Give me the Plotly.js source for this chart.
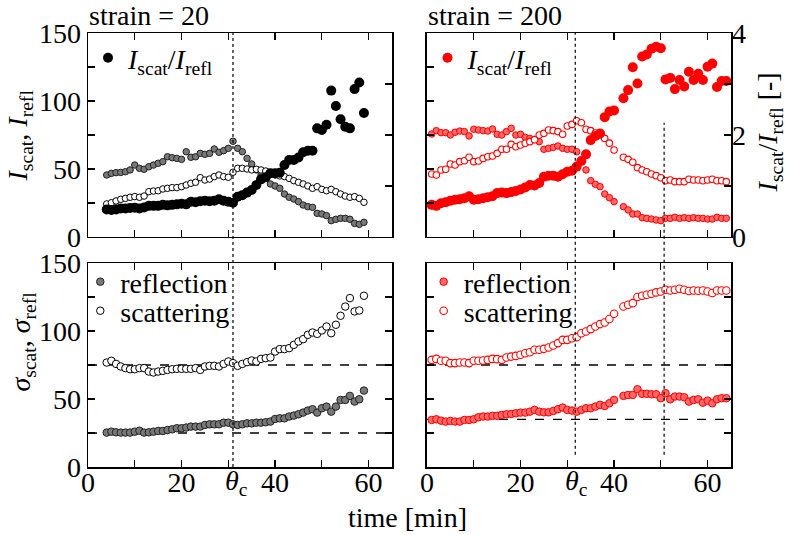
<!DOCTYPE html>
<html>
<head>
<meta charset="utf-8">
<script src="https://cdn.plot.ly/plotly-3.0.1.min.js"></script>
<style>html,body{margin:0;padding:0;background:#fff;}#chart{width:788px;height:535px;}</style>
</head>
<body>
<div id="chart"></div>
<script>
// ---- data: strain = 20 ----
const t20 = [4,5,6,7,8,9,10,11,12,13,14,15,16,17,18,19,20,21,22,23,24,25,26,27,28,29,30,31,
  32,33,34,35,36,37,38,39,40,41,42,43,44,45,46,47,48,49,50,51,52,53,54,55,56,57,58,59];
const Irefl20 = [45.6,46.8,47.3,47.5,48,49.3,52.9,50.5,49.8,51.7,52.9,54.2,55.4,59,58.3,57.8,57.1,62.7,58.6,59,61.5,60.8,61.5,64.7,62.3,63.5,65.2,70.4,
  65.2,62.7,57.8,53.7,49.3,45.6,43.1,39,37.5,35.8,31.6,29.2,27.9,26,23.5,22.3,21.8,17.4,16.9,15.7,12,13,13.7,13.7,13,10,9.3,10.8];
const Iscat20 = [24.3,25.2,26.5,27.7,28.4,29.2,29.7,29.2,30.1,33.3,33.8,34,35.3,35.8,36.3,36.3,37,38.2,39.5,40.2,43.6,41.9,42.6,44.4,45.6,44.4,43.9,47.6,
  50.5,50.5,50,49.3,49.8,49.3,48.5,47.3,45.6,44.9,44.4,43.1,41.4,40.2,39,37.5,35.8,37,35,34,35,33.3,31.6,30.1,29.2,29.7,28.4,25.5];
const ratio20 = [0.54,0.53,0.54,0.56,0.56,0.57,0.575,0.56,0.58,0.61,0.61,0.61,0.63,0.62,0.63,0.64,0.65,0.64,0.69,0.68,0.70,0.71,0.70,0.71,0.74,0.71,0.69,0.67,
  0.79,0.82,0.87,0.92,1.02,1.13,1.17,1.25,1.25,1.26,1.41,1.51,1.51,1.56,1.66,1.69,1.69,2.13,2.10,2.2,2.87,2.57,2.31,2.16,2.13,2.90,3.03,2.43];
const sigScat20 = [76.8,78.1,75.8,73.9,72.7,71.9,71.9,72.7,72.7,70.2,69.5,70.2,70.7,71.4,71.9,72.2,72.2,72.2,72.2,72.7,71.4,73.9,74.4,74.4,73.9,75.8,77.6,76.4,
  74.4,75.8,77.1,78.3,77.6,79.5,80,80.5,84.9,86.7,86.7,87.4,89.8,92.3,94,97.2,98.9,97.9,100.4,103.3,98.4,104.6,111.2,118,124.2,114.4,115.1,125.9];
const sigRefl20 = [25.3,26.0,25.5,25.3,25.3,25.3,26.0,26.7,25.3,25.5,26.0,26.5,26.5,27.2,27.7,28.5,28.5,29.0,29.7,29.7,29.7,30.9,31.4,31.4,31.4,32.6,32.6,31.4,
  30.9,31.4,32.1,32.1,32.6,32.6,32.9,33.4,35.3,35.8,35.8,37.1,37.8,38.8,40.0,41.5,42.5,40.0,43.2,44.4,40.7,44.4,49.3,49.3,52.3,48.1,49.8,56.2];

// ---- data: strain = 200 ----
const t200 = [1,2,3,4,5,6,7,8,9,10,11,12,13,14,15,16,17,18,19,20,21,22,23,24,25,26,27,28,29,30,31,32,33,34,35,36,37,38,39,40,
  42,43,44,45,46,47,48,49,50,51,52,53,54,55,56,57,58,59,60,61,62,63,64];
const Irefl200 = [75.7,78.2,76.7,76.7,75,77,77.9,77.5,74.3,79.2,78.7,78.2,77.9,79.4,75.5,75,77.5,79.9,75,75.5,73.3,72.5,71.8,70.1,64.5,65.2,65.9,66.9,65.2,64.5,64.5,62.7,56,49.3,41.4,38.7,37,31.6,28.9,26,
  22.3,19.9,16.9,16.9,14.2,13.7,13.2,12.5,12,13.7,13.7,14.5,13.7,14.2,13.7,14.2,13.7,13.7,13.2,13.2,14.5,13.7,13.7];
const Iscat200 = [46.3,45.6,49.3,49.8,53.7,52.9,55.4,56.1,58.6,55.4,55.9,57.8,59,59.6,61.5,64.5,64.5,68.1,66.4,67.6,68.9,70.1,71.5,75,76.2,78.7,78.2,77.5,75.5,81.6,82.8,85.5,84,79.2,78.2,76.5,75,72.5,69,64,
  58.6,57.1,54.9,51,49.3,48,46.3,45.1,43.6,41.4,41.9,40.7,40.7,40.7,42.4,41.9,41.9,41.4,41.9,42.4,41.4,41.4,40.7];
const ratio200 = [0.63,0.61,0.66,0.68,0.71,0.73,0.74,0.76,0.80,0.73,0.74,0.76,0.78,0.80,0.86,0.87,0.86,0.88,0.90,0.93,0.97,1.02,1.01,1.06,1.18,1.20,1.20,1.18,1.23,1.28,1.30,1.38,1.49,1.62,1.90,1.98,2.03,2.35,2.46,2.48,
  2.72,2.88,3.33,3.01,3.54,3.58,3.69,3.73,3.70,3.09,3.12,2.90,3.08,2.95,3.24,3.08,3.20,3.08,3.34,3.40,2.94,3.06,3.06];
const sigScat200 = [78.8,79.5,78.1,78.1,76.4,76.4,76.8,76.8,76.4,78.1,78.1,78.3,78.8,79.5,79.3,78.8,80.5,81.2,81.7,82.5,83.7,84.4,86.2,86.2,86.9,87.9,89.3,91.1,93.5,93.5,94.7,95.5,98.4,99.6,101.4,103.3,105.1,106.3,108.8,112.7,
  118,119.3,120.5,125,125.9,126.7,127.4,128.4,129.1,130.3,129.8,130.3,131.1,130.3,129.4,129.8,129.6,129.8,129.1,127.9,129.8,129.8,129.8];
const sigRefl200 = [34.6,35.1,34.1,33.4,33.9,33.4,33.4,34.6,34.6,35.1,36.6,37.1,37.1,37.6,37.6,38.3,38.8,39,39.5,40,40,40.7,42,40.7,40.2,40.2,41.2,42.5,43.7,42,41.5,40.7,42,43.2,43.2,44.4,45.7,44.9,46.9,49.3,
  52.3,53,53,57.2,53.8,53.8,53.5,53.5,50.6,54.3,49.8,51.8,51.8,51.3,48.1,49.3,49.8,47.3,48.8,46.9,49.8,50.6,50.6];

// reference lines & labels
const thetaC20 = 31, thetaC200 = 31.7, tEnd200 = 50.7;
const base20 = [75, 25], base200 = [75, 35];
const xTickVals = [0,10,20,30,40,50,60], xTickText = ['0','','20','','40','','60'];
const yTickVals = [0,25,50,75,100,125,150], yTickText = ['0','','50','','100','','150'];

const FONT = "'Liberation Serif', 'Times New Roman', Times, serif";
const RED = '#ff0000';

function sc(x, y, xa, ya, name, mk, leg, show) {
  return {x: x, y: y, xaxis: xa, yaxis: ya, type: 'scatter', mode: 'markers', name: name,
          marker: mk, showlegend: !!show, legend: leg, cliponaxis: true};
}
const mGray = {size: 6.5, color: '#787878', line: {color: '#222', width: 1}};
const mOpen = {size: 6.5, color: '#fff', line: {color: '#000', width: 1}};
const mBlack = {size: 10, color: '#000'};
const mPink = {size: 6.5, color: '#ff6666', line: {color: RED, width: 1}};
const mOpenR = {size: 6.5, color: '#fff', line: {color: RED, width: 1.1}};
const mRed = {size: 10, color: RED};
const big = m => Object.assign({}, m, {size: 7.5});

const ratioName = '<i>I</i><sub>scat</sub>/<i>I</i><sub>refl</sub>';
const data = [
  sc(t20, Irefl20, 'x', 'y', 'refl', mGray, 'legend', false),
  sc(t20, Iscat20, 'x', 'y', 'scat', mOpen, 'legend', false),
  sc(t20, ratio20, 'x', 'y5', ratioName, mBlack, 'legend', true),
  sc(t200, Irefl200, 'x2', 'y2', 'refl', mPink, 'legend2', false),
  sc(t200, Iscat200, 'x2', 'y2', 'scat', mOpenR, 'legend2', false),
  sc(t200, ratio200, 'x2', 'y6', ratioName, mRed, 'legend2', true),
  sc(t20, sigRefl20, 'x3', 'y3', 'reflection', big(mGray), 'legend3', true),
  sc(t20, sigScat20, 'x3', 'y3', 'scattering', big(mOpen), 'legend5', true),
  sc(t200, sigRefl200, 'x4', 'y4', 'reflection', big(mPink), 'legend4', true),
  sc(t200, sigScat200, 'x4', 'y4', 'scattering', big(mOpenR), 'legend6', true)
];

const axBase = {showline: true, linecolor: '#000', linewidth: 1.5, ticks: 'inside', ticklen: 7,
  tickwidth: 1.2, tickcolor: '#000', showgrid: false, zeroline: false,
  tickfont: {family: FONT, size: 28, color: '#000'}};
function xa(dom, anchor, labels) {
  return Object.assign({}, axBase, {domain: dom, anchor: anchor, range: [0, 65], mirror: 'ticks',
    tickmode: 'array', tickvals: xTickVals, ticktext: xTickText, showticklabels: labels,
    ticklabelstandoff: -10});
}
function ya(dom, anchor, labels, mirror) {
  return Object.assign({}, axBase, {domain: dom, anchor: anchor, range: [0, 150], mirror: mirror,
    tickmode: 'array', tickvals: yTickVals, ticktext: yTickText, showticklabels: labels});
}
const dL = [0, 0.4728], dR = [0.5272, 1], dT = [0.53, 1], dB = [0, 0.47];

const legBase = {bgcolor: 'rgba(0,0,0,0)', borderwidth: 0, font: {family: FONT, size: 28, color: '#000'},
  xanchor: 'left', yanchor: 'top', tracegroupgap: 0, itemwidth: 30};
const dash = (xr, yr, v, d) => ({type: 'line', xref: xr, yref: yr, x0: 0, x1: 65, y0: v, y1: v, layer: 'below',
  line: {color: '#000', width: 1.3, dash: d}});

const layout = {
  width: 788, height: 535,
  margin: {l: 88, r: 57, t: 33, b: 68, pad: 0},
  paper_bgcolor: '#fff', plot_bgcolor: 'rgba(0,0,0,0)',
  font: {family: FONT, size: 28, color: '#000'},
  showlegend: true,
  xaxis: xa(dL, 'y', false),
  xaxis2: xa(dR, 'y2', false),
  xaxis3: xa(dL, 'y3', true),
  xaxis4: xa(dR, 'y4', true),
  yaxis: ya(dT, 'x', true, true),
  yaxis2: ya(dT, 'x2', false, true),
  yaxis3: ya(dB, 'x3', true, 'ticks'),
  yaxis4: ya(dB, 'x4', false, 'ticks'),
  yaxis5: Object.assign({}, axBase, {overlaying: 'y', side: 'right', anchor: 'x', range: [0, 4],
    showline: false, tickmode: 'array', tickvals: [1, 2, 3], showticklabels: false}),
  yaxis6: Object.assign({}, axBase, {overlaying: 'y2', side: 'right', anchor: 'x2', range: [0, 4],
    showline: false, tickmode: 'array', tickvals: [0, 1, 2, 3, 4], ticktext: ['0', '', '2', '', '4']}),
  legend: Object.assign({}, legBase, {x: 0.0, y: 1.0}),
  legend2: Object.assign({}, legBase, {x: 0.528, y: 1.0}),
  legend3: Object.assign({}, legBase, {x: -0.012, y: 0.484}),
  legend5: Object.assign({}, legBase, {x: -0.012, y: 0.417}),
  legend4: Object.assign({}, legBase, {x: 0.522, y: 0.484}),
  legend6: Object.assign({}, legBase, {x: 0.522, y: 0.417}),
  shapes: [
    {type: 'line', xref: 'x', yref: 'paper', x0: thetaC20, x1: thetaC20, y0: 0, y1: 1,
     line: {color: '#000', width: 1.2, dash: 'dot'}},
    {type: 'line', xref: 'x2', yref: 'paper', x0: thetaC200, x1: thetaC200, y0: 0.028, y1: 1,
     line: {color: '#000', width: 1.2, dash: 'dot'}},
    {type: 'line', xref: 'x2', yref: 'paper', x0: tEnd200, x1: tEnd200, y0: 0.028, y1: 0.793,
     line: {color: '#000', width: 1.2, dash: 'dot'}},
    dash('x3', 'y3', base20[0], 'dash'), dash('x3', 'y3', base20[1], 'dash'),
    dash('x4', 'y4', base200[0], 'dash'), dash('x4', 'y4', base200[1], 'dash')
  ],
  annotations: [
    {text: 'strain = 20', xref: 'paper', yref: 'paper', x: -0.002, y: 1.0, xanchor: 'left', yanchor: 'bottom',
     showarrow: false, font: {family: FONT, size: 28}},
    {text: 'strain = 200', xref: 'paper', yref: 'paper', x: 0.525, y: 1.0, xanchor: 'left', yanchor: 'bottom',
     showarrow: false, font: {family: FONT, size: 28}},
    {text: '<i>θ</i><sub>c</sub>', xref: 'x3', yref: 'paper', x: thetaC20 + 0.8, y: 0, yanchor: 'top', yshift: 4,
     showarrow: false, font: {family: FONT, size: 28}},
    {text: '<i>θ</i><sub>c</sub>', xref: 'x4', yref: 'paper', x: thetaC200 + 0.3, y: 0, yanchor: 'top', yshift: 4,
     showarrow: false, font: {family: FONT, size: 28}},
    {text: 'time [min]', xref: 'paper', yref: 'paper', x: 0.497, y: -0.117, xanchor: 'center', yanchor: 'middle',
     showarrow: false, font: {family: FONT, size: 28}},
    {text: '<i>I</i><sub>scat</sub>, <i>I</i><sub>refl</sub>', xref: 'paper', yref: 'paper', x: -0.105, y: 0.765,
     xanchor: 'center', yanchor: 'middle', textangle: -90, showarrow: false, font: {family: FONT, size: 28}},
    {text: '<i>σ</i><sub>scat</sub>, <i>σ</i><sub>refl</sub>', xref: 'paper', yref: 'paper', x: -0.102, y: 0.29,
     xanchor: 'center', yanchor: 'middle', textangle: -90, showarrow: false, font: {family: FONT, size: 28}},
    {text: '<i>I</i><sub>scat</sub>/<i>I</i><sub>refl</sub> [-]', xref: 'paper', yref: 'paper', x: 1.06, y: 0.77,
     xanchor: 'center', yanchor: 'middle', textangle: -90, showarrow: false, font: {family: FONT, size: 28}}
  ]
};

Plotly.newPlot('chart', data, layout, {staticPlot: true, displayModeBar: false});
</script>
</body>
</html>
